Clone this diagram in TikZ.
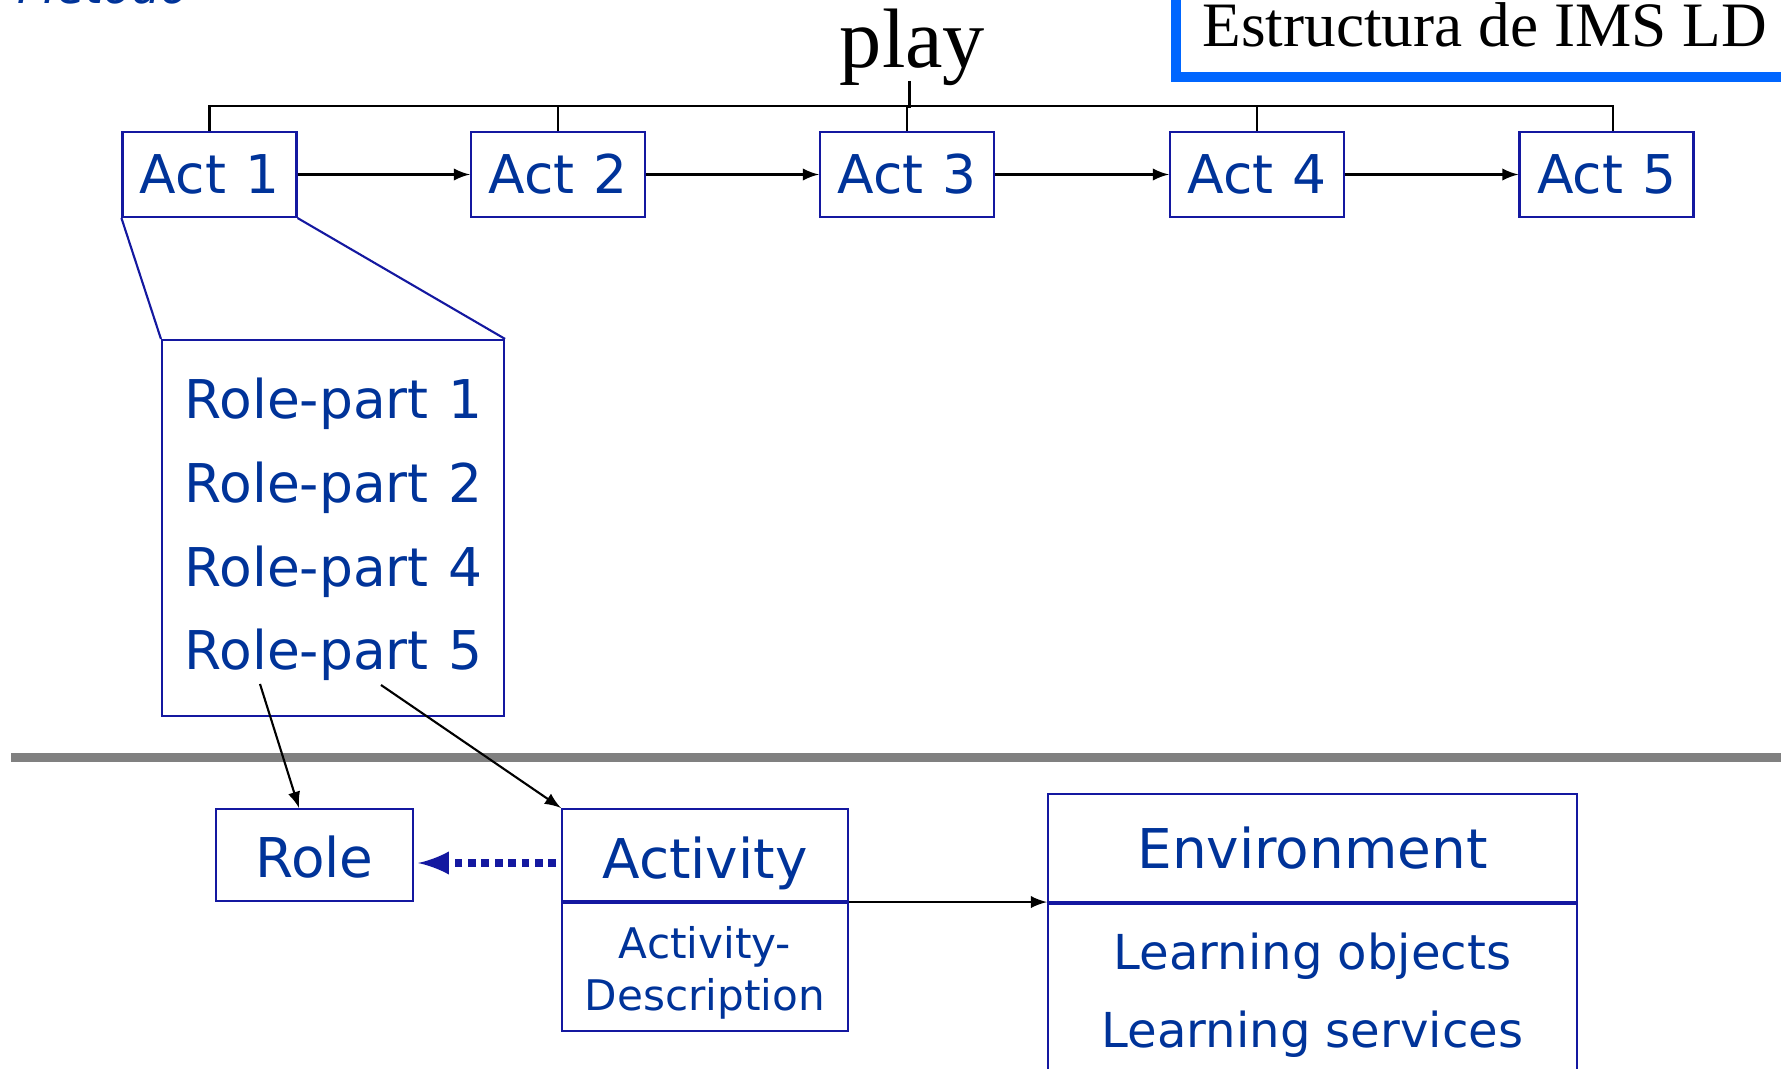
\documentclass[tikz,border=0pt]{standalone}
\usepackage{fontspec}
\setmainfont{Liberation Serif}
\newfontfamily\vfont{DejaVu Sans}
\usepackage{tikz}
\usepackage{xcolor}
\usetikzlibrary{arrows,positioning}

\definecolor{boxblue}{RGB}{20,24,160}
\definecolor{textblue}{RGB}{0,51,153}
\definecolor{titleblue}{RGB}{0,102,255}
\definecolor{sepgray}{RGB}{128,128,128}

\newcommand\actfont{\vfont\fontsize{15.6}{18}\selectfont}
\newcommand\rpfont{\vfont\fontsize{15.2}{17}\selectfont}
\newcommand\descfont{\vfont\fontsize{12}{14.8}\selectfont}
\newcommand\lofont{\vfont\fontsize{13.7}{16}\selectfont}

\tikzset{
  bluebox/.style={draw=boxblue,line width=0.6pt,text=textblue,inner sep=0pt},
  actbox/.style={bluebox,minimum width=1.74cm,minimum height=0.85cm,font=\vfont\fontsize{15.2}{18}\selectfont},
  rptext/.style={anchor=base west,inner sep=0pt,text=textblue,font=\rpfont},
  lotext/.style={anchor=base,inner sep=0pt,text=textblue,font=\lofont},
  link/.style={-latex,line width=0.6pt},
  dotlink/.style={-latex,boxblue,line width=2pt,dash pattern=on 2.2pt off 1.6pt}
}

\begin{document}
\begin{tikzpicture}
\useasboundingbox (0,0) rectangle (17.81,-10.69);
\clip (0,0) rectangle (17.81,-10.69);

\draw[titleblue,line width=3.1pt] (11.76,0.3) |- (18.2,-0.77);
\node[anchor=base west,inner sep=0pt,font=\fontsize{18}{20}\selectfont] (titulo) at (12.02,-0.47) {Estructura de IMS LD};
\node[anchor=base west,inner sep=0pt,text=textblue,font=\vfont\itshape\fontsize{13}{15}\selectfont] (metodo) at (0.17,-0.04) {Método};

\node[anchor=base,inner sep=0pt,font=\fontsize{24}{28}\selectfont] (play) at (9.125,-0.68) {play};

\foreach \i/\x in {1/2.095,2/5.58,3/9.07,4/12.57,5/16.065}
  \node[actbox] (act\i) at (\x,-1.745) {Act\hspace{0.04em} \i};

\draw[line width=0.6pt] (act1.north) -- ++(0,0.25) -| ([xshift=0.065cm]act5.north);
\foreach \i in {2,3,4}
  \draw[line width=0.6pt] (act\i.north) -- ++(0,0.25);
\draw[line width=0.6pt] ([xshift=-0.03cm,yshift=0.06cm]play.south) -- ++(0,-0.27);

\foreach \i/\j in {1/2,2/3,3/4,4/5}
  \draw[link] (act\i) -- (act\j);

\node[bluebox,minimum width=3.42cm,minimum height=3.76cm] (rpbox) at (3.33,-5.28) {};
\foreach \i/\y in {1/4.19,2/5.03,4/5.87,5/6.70}
  \node[rptext] (rp\i) at (1.84,-\y) {Role-part\hspace{0.06em} \i};
\draw[boxblue,line width=0.6pt] (act1.south west) -- (rpbox.north west);
\draw[boxblue,line width=0.6pt] (act1.south east) -- (rpbox.north east);

\draw[sepgray,line width=2.3pt] (0.11,-7.575) -- (18,-7.575);

\node[bluebox,minimum width=1.97cm,minimum height=0.92cm,font=\actfont,text height=0.46cm,text depth=0pt] (role) at (3.145,-8.55) {Role};
\node[bluebox,minimum width=2.86cm,minimum height=0.92cm,font=\actfont,text height=0.48cm,text depth=0pt] (activity) at (7.05,-8.55) {Activity};
\node[bluebox,minimum width=2.86cm,minimum height=1.28cm,below=0pt of activity] (actdesc) {};
\node[inner sep=0pt,text=textblue,font=\descfont,align=center] (desctext) at ([yshift=-0.06cm]actdesc.center) {Activity-\\Description};

\node[bluebox,minimum width=5.29cm,minimum height=1.08cm,font=\actfont] (envtop) at (13.125,-8.48) {Environment};
\node[bluebox,minimum width=5.29cm,minimum height=2.2cm,below=0pt of envtop] (envbody) {};
\node[lotext] (lobj) at (13.125,-9.70) {Learning objects};
\node[lotext] (lserv) at (13.125,-10.48) {Learning services};

\coordinate (rpa) at (2.60,-6.84);
\coordinate (rpb) at (3.81,-6.85);
\draw[link] (rpa) -- ([xshift=-0.155cm]role.north);
\draw[link] (rpb) -- (activity.north west);
\draw[dotlink,shorten <=0.05cm,shorten >=0.04cm] ([yshift=-0.08cm]activity.west) -- ([yshift=-0.08cm]role.east);
\draw[link] (activity.south east) -- (activity.south east -| envtop.west);
\end{tikzpicture}
\end{document}
